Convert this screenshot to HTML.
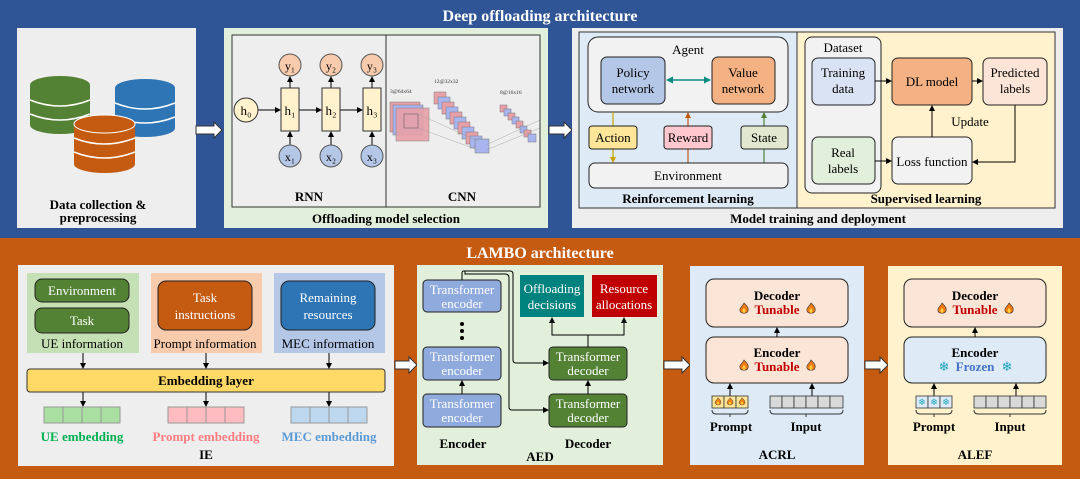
<!DOCTYPE html>
<html><head><meta charset="utf-8"><style>
html,body{margin:0;padding:0;background:#fff}
svg{display:block}
text{font-family:"Liberation Serif",serif}
</style></head><body>
<svg width="1080" height="479" viewBox="0 0 1080 479" xmlns="http://www.w3.org/2000/svg">
<defs>
<marker id="ah" markerWidth="6" markerHeight="6" refX="5" refY="3" orient="auto" markerUnits="userSpaceOnUse"><path d="M0,0 L6,3 L0,6 z" fill="#000"/></marker>
<marker id="aht" markerWidth="7" markerHeight="7" refX="6" refY="3.5" orient="auto-start-reverse" markerUnits="userSpaceOnUse"><path d="M0,0 L7,3.5 L0,7 z" fill="#0b8a82"/></marker>
<marker id="ahy" markerWidth="6" markerHeight="6" refX="5" refY="3" orient="auto" markerUnits="userSpaceOnUse"><path d="M0,0 L6,3 L0,6 z" fill="#c9a000"/></marker>
<marker id="aho" markerWidth="6" markerHeight="6" refX="5" refY="3" orient="auto" markerUnits="userSpaceOnUse"><path d="M0,0 L6,3 L0,6 z" fill="#c55a11"/></marker>
<marker id="ahg" markerWidth="6" markerHeight="6" refX="5" refY="3" orient="auto" markerUnits="userSpaceOnUse"><path d="M0,0 L6,3 L0,6 z" fill="#548235"/></marker>
<g id="flame"><path d="M0,-6 C3,-3 5,-1 4,2 C3,5 -3,5 -4,2 C-5,-1 -2,-2 0,-6z" fill="#f07b12" stroke="#333" stroke-width="0.6"/><path d="M0,-1 C2,1 2,3 0,4 C-2,3 -2,1 0,-1z" fill="#ffd23f"/></g>
</defs>
<!-- bands -->
<rect x="0" y="0" width="1080" height="238" fill="#2f5597"/>
<rect x="0" y="238" width="1080" height="241" fill="#c55a11"/>
<text x="540" y="21" text-anchor="middle" font-size="16" font-weight="bold" fill="#fff">Deep offloading architecture</text>
<text x="540" y="258" text-anchor="middle" font-size="16" font-weight="bold" fill="#fff">LAMBO architecture</text>

<!-- data collection -->
<rect x="17" y="28" width="179" height="200" fill="#eeeeee"/>
<g>
<rect x="30" y="85" width="60" height="40" fill="#548235"/><ellipse cx="60" cy="125" rx="30" ry="9" fill="#548235"/><ellipse cx="60" cy="85" rx="30" ry="9" fill="#548235"/>
<path d="M30,100 Q60,112 90,100 M30,114 Q60,126 90,114" stroke="#fff" stroke-width="1.5" fill="none"/>
<rect x="115" y="88" width="60" height="40" fill="#2e75b6"/><ellipse cx="145" cy="128" rx="30" ry="9" fill="#2e75b6"/><ellipse cx="145" cy="88" rx="30" ry="9" fill="#2e75b6"/>
<path d="M115,103 Q145,115 175,103 M115,117 Q145,129 175,117" stroke="#fff" stroke-width="1.5" fill="none"/>
<rect x="74" y="124" width="61" height="40" fill="#c55a11"/><ellipse cx="104.5" cy="164" rx="30.5" ry="9" fill="#c55a11"/><ellipse cx="104.5" cy="124" rx="30.5" ry="9" fill="#c55a11" stroke="#fff" stroke-width="1"/>
<path d="M74,138 Q104,150 135,138 M74,152 Q104,164 135,152" stroke="#fff" stroke-width="1.5" fill="none"/>
</g>
<text x="98" y="209" text-anchor="middle" font-size="13" font-weight="bold">Data collection &amp;</text>
<text x="98" y="222" text-anchor="middle" font-size="13" font-weight="bold">preprocessing</text>

<!-- block arrows -->
<g fill="#fff" stroke="#333" stroke-width="1">
<path d="M196,126 h18 v-4 l8,8 l-8,8 v-4 h-18 z"/>
<path d="M549,126 h15 v-4 l8,8 l-8,8 v-4 h-15 z"/>
<path d="M395,361 h14 v-4 l8,8 l-8,8 v-4 h-14 z"/>
<path d="M664,361 h18 v-4 l8,8 l-8,8 v-4 h-18 z"/>
<path d="M865,361 h15 v-4 l8,8 l-8,8 v-4 h-15 z"/>
</g>

<!-- offloading model selection -->
<rect x="224" y="28" width="324" height="200" fill="#e2efda"/>
<rect x="232" y="35" width="308" height="172" fill="#eeeeee" stroke="#333" stroke-width="1"/>
<line x1="386" y1="35" x2="386" y2="207" stroke="#333"/>
<g stroke="#000" stroke-width="1" fill="none">
<line x1="258" y1="110" x2="280" y2="110" marker-end="url(#ah)"/>
<line x1="299" y1="110" x2="321" y2="110" marker-end="url(#ah)"/>
<line x1="340" y1="110" x2="362" y2="110" marker-end="url(#ah)"/>
<line x1="290" y1="88" x2="290" y2="77" marker-end="url(#ah)"/>
<line x1="331" y1="88" x2="331" y2="77" marker-end="url(#ah)"/>
<line x1="372" y1="88" x2="372" y2="77" marker-end="url(#ah)"/>
<line x1="290" y1="145" x2="290" y2="132" marker-end="url(#ah)"/>
<line x1="331" y1="145" x2="331" y2="132" marker-end="url(#ah)"/>
<line x1="372" y1="145" x2="372" y2="132" marker-end="url(#ah)"/>
</g>
<circle cx="246" cy="110" r="12" fill="#fff2cc" stroke="#333"/><text x="246" y="115" text-anchor="middle" font-size="13">h₀</text>
<g fill="#fff2cc" stroke="#333"><rect x="281" y="88" width="18" height="43"/><rect x="322" y="88" width="18" height="43"/><rect x="363" y="88" width="18" height="43"/></g>
<g font-size="13" text-anchor="middle"><text x="290" y="115">h₁</text><text x="331" y="115">h₂</text><text x="372" y="115">h₃</text></g>
<g fill="#f8cbad" stroke="#555"><circle cx="290" cy="65" r="11"/><circle cx="331" cy="65" r="11"/><circle cx="372" cy="65" r="11"/></g>
<g fill="#b4c7e7" stroke="#555"><circle cx="290" cy="156" r="11"/><circle cx="331" cy="156" r="11"/><circle cx="372" cy="156" r="11"/></g>
<g font-size="12" text-anchor="middle"><text x="290" y="70">y₁</text><text x="331" y="70">y₂</text><text x="372" y="70">y₃</text><text x="290" y="161">x₁</text><text x="331" y="161">x₂</text><text x="372" y="161">x₃</text></g>
<text x="309" y="201" text-anchor="middle" font-size="13" font-weight="bold">RNN</text>
<text x="462" y="201" text-anchor="middle" font-size="13" font-weight="bold">CNN</text>
<!-- CNN -->
<g font-family="Liberation Sans" font-size="5.5" fill="#333"><text x="390" y="93" font-family="Liberation Sans">3@64x64</text><text x="434" y="83" font-family="Liberation Sans">12@32x32</text><text x="500" y="94" font-family="Liberation Sans">8@16x16</text></g>
<g stroke="#777" stroke-width="0.5">
<rect x="390" y="102" width="30" height="30" fill="#e8a0a8"/><rect x="393" y="105" width="30" height="30" fill="#a9b5ee"/><rect x="396" y="108" width="33" height="33" fill="#e8a0a8" opacity="0.9"/>
<rect x="404" y="114" width="14" height="14" fill="none" stroke="#555"/>
</g>
<g stroke="#777" stroke-width="0.5">
<rect x="434" y="92" width="12" height="12" fill="#e8a0a8"/><rect x="438" y="97" width="12" height="12" fill="#a9b5ee"/><rect x="442" y="102" width="12" height="12" fill="#e8a0a8"/><rect x="446" y="107" width="12" height="12" fill="#a9b5ee"/><rect x="450" y="112" width="12" height="12" fill="#e8a0a8"/><rect x="454" y="117" width="12" height="12" fill="#a9b5ee"/><rect x="458" y="122" width="12" height="12" fill="#e8a0a8"/><rect x="462" y="127" width="12" height="12" fill="#a9b5ee"/><rect x="466" y="132" width="12" height="12" fill="#e8a0a8"/><rect x="470" y="136" width="12" height="12" fill="#a9b5ee"/><rect x="475" y="139" width="14" height="14" fill="#a9b5ee"/>
<rect x="500" y="105" width="7" height="7" fill="#e8a0a8"/><rect x="504" y="109" width="7" height="7" fill="#a9b5ee"/><rect x="508" y="113" width="7" height="7" fill="#e8a0a8"/><rect x="512" y="117" width="7" height="7" fill="#a9b5ee"/><rect x="516" y="121" width="7" height="7" fill="#e8a0a8"/><rect x="520" y="126" width="7" height="7" fill="#a9b5ee"/><rect x="524" y="130" width="7" height="7" fill="#e8a0a8"/><rect x="528" y="134" width="8" height="8" fill="#a9b5ee"/>
</g>
<g stroke="#999" stroke-width="0.4"><line x1="418" y1="114" x2="478" y2="141"/><line x1="418" y1="128" x2="478" y2="150"/><line x1="486" y1="145" x2="540" y2="120"/><line x1="486" y1="150" x2="540" y2="128"/></g>
<text x="386" y="223" text-anchor="middle" font-size="13" font-weight="bold">Offloading model selection</text>

<!-- model training -->
<rect x="572" y="28" width="491" height="200" fill="#eeeeee"/>
<rect x="579" y="32" width="218" height="176" fill="#deebf7"/>
<rect x="797" y="32" width="258" height="176" fill="#fff2cc"/>
<rect x="579" y="32" width="476" height="176" fill="none" stroke="#333"/>
<line x1="797" y1="32" x2="797" y2="208" stroke="#333"/>
<rect x="588" y="37" width="200" height="75" rx="10" fill="#f2f2f2" stroke="#222"/>
<text x="688" y="54" text-anchor="middle" font-size="13">Agent</text>
<rect x="601" y="57" width="64" height="47" rx="6" fill="#b4c7e7" stroke="#222"/>
<rect x="712" y="57" width="63" height="47" rx="6" fill="#f4b183" stroke="#222"/>
<g font-size="13" text-anchor="middle"><text x="633" y="77">Policy</text><text x="633" y="93">network</text><text x="743" y="77">Value</text><text x="743" y="93">network</text></g>
<line x1="667" y1="80" x2="710" y2="80" stroke="#0b8a82" stroke-width="1.5" marker-start="url(#aht)" marker-end="url(#aht)"/>
<line x1="613" y1="112" x2="613" y2="162" stroke="#c9a000" stroke-width="1.2" marker-end="url(#ahy)"/>
<line x1="688" y1="163" x2="688" y2="113" stroke="#c55a11" stroke-width="1.2" marker-end="url(#aho)"/>
<line x1="764" y1="163" x2="764" y2="113" stroke="#548235" stroke-width="1.2" marker-end="url(#ahg)"/>
<rect x="589" y="126" width="48" height="23" rx="3" fill="#ffe699" stroke="#222"/>
<rect x="664" y="126" width="48" height="23" rx="3" fill="#ffc7ce" stroke="#222"/>
<rect x="741" y="126" width="47" height="23" rx="3" fill="#e2e8d0" stroke="#222"/>
<g font-size="13" text-anchor="middle"><text x="613" y="142">Action</text><text x="688" y="142">Reward</text><text x="764" y="142">State</text></g>
<rect x="589" y="163" width="199" height="25" rx="6" fill="#f2f2f2" stroke="#222"/>
<text x="688" y="180" text-anchor="middle" font-size="13">Environment</text>
<text x="688" y="203" text-anchor="middle" font-size="13" font-weight="bold">Reinforcement learning</text>
<rect x="805" y="37" width="76" height="156" rx="7" fill="#f2f2f2" stroke="#222"/>
<text x="843" y="52" text-anchor="middle" font-size="13">Dataset</text>
<rect x="812" y="58" width="63" height="47" rx="6" fill="#dae3f3" stroke="#222"/>
<rect x="812" y="137" width="63" height="47" rx="6" fill="#e2efda" stroke="#222"/>
<rect x="892" y="58" width="80" height="47" rx="6" fill="#f4b183" stroke="#222"/>
<rect x="983" y="58" width="64" height="47" rx="6" fill="#fce4d6" stroke="#222"/>
<rect x="892" y="137" width="80" height="47" rx="6" fill="#f2f2f2" stroke="#222"/>
<g font-size="13" text-anchor="middle"><text x="843" y="77">Training</text><text x="843" y="93">data</text><text x="843" y="157">Real</text><text x="843" y="173">labels</text><text x="932" y="86">DL model</text><text x="1015" y="77">Predicted</text><text x="1015" y="93">labels</text><text x="932" y="166">Loss function</text><text x="970" y="126">Update</text></g>
<g stroke="#000" fill="none"><line x1="875" y1="81" x2="891" y2="81" marker-end="url(#ah)"/><line x1="972" y1="81" x2="982" y2="81" marker-end="url(#ah)"/><line x1="875" y1="161" x2="891" y2="161" marker-end="url(#ah)"/><line x1="932" y1="137" x2="932" y2="106" marker-end="url(#ah)"/><polyline points="1015,105 1015,162 973,162" marker-end="url(#ah)"/></g>
<text x="926" y="203" text-anchor="middle" font-size="13" font-weight="bold">Supervised learning</text>
<text x="818" y="223" text-anchor="middle" font-size="13" font-weight="bold">Model training and deployment</text>

<!-- IE -->
<rect x="18" y="265" width="376" height="201" fill="#eeeeee"/>
<rect x="27" y="273" width="112" height="80" fill="#c5e0b4"/>
<rect x="151" y="273" width="111" height="80" fill="#f8cbad"/>
<rect x="274" y="273" width="111" height="80" fill="#b4c7e7"/>
<rect x="35" y="279" width="94" height="23" rx="7" fill="#548235" stroke="#222"/>
<rect x="35" y="308" width="94" height="25" rx="7" fill="#548235" stroke="#222"/>
<rect x="158" y="281" width="94" height="49" rx="8" fill="#c55a11" stroke="#222"/>
<rect x="281" y="281" width="94" height="49" rx="8" fill="#2e75b6" stroke="#222"/>
<g font-size="13" text-anchor="middle" fill="#fff"><text x="82" y="295">Environment</text><text x="82" y="325">Task</text><text x="205" y="302">Task</text><text x="205" y="319">instructions</text><text x="328" y="302">Remaining</text><text x="328" y="319">resources</text></g>
<g font-size="13" text-anchor="middle"><text x="82" y="348">UE information</text><text x="205" y="348">Prompt information</text><text x="328" y="348">MEC information</text></g>
<g stroke="#000"><line x1="83" y1="353" x2="83" y2="368" marker-end="url(#ah)"/><line x1="206" y1="353" x2="206" y2="368" marker-end="url(#ah)"/><line x1="329" y1="353" x2="329" y2="368" marker-end="url(#ah)"/><line x1="83" y1="392" x2="83" y2="406" marker-end="url(#ah)"/><line x1="206" y1="392" x2="206" y2="406" marker-end="url(#ah)"/><line x1="329" y1="392" x2="329" y2="406" marker-end="url(#ah)"/></g>
<rect x="27" y="369" width="358" height="23" rx="3" fill="#ffd966" stroke="#333"/>
<text x="206" y="385" text-anchor="middle" font-size="13" font-weight="bold">Embedding layer</text>
<g stroke="#999" stroke-width="1">
<g fill="#a9dfa0"><rect x="44" y="407" width="19" height="16"/><rect x="63" y="407" width="19" height="16"/><rect x="82" y="407" width="19" height="16"/><rect x="101" y="407" width="19" height="16"/></g>
<g fill="#ffbcc0"><rect x="168" y="407" width="19" height="16"/><rect x="187" y="407" width="19" height="16"/><rect x="206" y="407" width="19" height="16"/><rect x="225" y="407" width="19" height="16"/></g>
<g fill="#bdd7ee"><rect x="291" y="407" width="19" height="16"/><rect x="310" y="407" width="19" height="16"/><rect x="329" y="407" width="19" height="16"/><rect x="348" y="407" width="19" height="16"/></g>
</g>
<g font-size="13" font-weight="bold" text-anchor="middle"><text x="82" y="441" fill="#00b050">UE embedding</text><text x="206" y="441" fill="#ff7c80">Prompt embedding</text><text x="329" y="441" fill="#5b9bd5">MEC embedding</text><text x="206" y="459">IE</text></g>

<!-- AED -->
<rect x="417" y="265" width="246" height="200" fill="#e2efda"/>
<g fill="#8faadc" stroke="#222"><rect x="423" y="280" width="78" height="32" rx="4"/><rect x="423" y="347" width="78" height="33" rx="4"/><rect x="423" y="394" width="78" height="33" rx="4"/></g>
<g font-size="13" text-anchor="middle" fill="#fff"><text x="462" y="294">Transformer</text><text x="462" y="308">encoder</text><text x="462" y="361">Transformer</text><text x="462" y="375">encoder</text><text x="462" y="408">Transformer</text><text x="462" y="422">encoder</text></g>
<g fill="#000"><circle cx="462" cy="324" r="2"/><circle cx="462" cy="331" r="2"/><circle cx="462" cy="338" r="2"/></g>
<g fill="#548235" stroke="#222"><rect x="549" y="347" width="78" height="33" rx="4"/><rect x="549" y="394" width="78" height="33" rx="4"/></g>
<g font-size="13" text-anchor="middle" fill="#fff"><text x="588" y="361">Transformer</text><text x="588" y="375">decoder</text><text x="588" y="408">Transformer</text><text x="588" y="422">decoder</text></g>
<rect x="520" y="275" width="64" height="42" fill="#00837e"/>
<rect x="592" y="275" width="65" height="42" fill="#c00000"/>
<g font-size="13" text-anchor="middle" fill="#fff"><text x="552" y="293">Offloading</text><text x="552" y="309">decisions</text><text x="624" y="293">Resource</text><text x="624" y="309">allocations</text></g>
<g stroke="#000" fill="none">
<line x1="462" y1="394" x2="462" y2="381" marker-end="url(#ah)"/>
<line x1="588" y1="394" x2="588" y2="381" marker-end="url(#ah)"/>
<path d="M462,280 V273 Q462,271 464,271 H510 Q513,271 513,274 V360 Q513,363 516,363 H548" marker-end="url(#ah)"/>
<path d="M465,271 V274 H505 Q509,274 509,278 V407 Q509,410 512,410 H548" marker-end="url(#ah)"/>
<polyline points="588,347 588,335 552,335 552,318" marker-end="url(#ah)"/>
<polyline points="588,335 624,335 624,318" marker-end="url(#ah)"/>
</g>
<g font-size="13" font-weight="bold" text-anchor="middle"><text x="463" y="448">Encoder</text><text x="588" y="448">Decoder</text><text x="540" y="461">AED</text></g>

<!-- ACRL -->
<rect x="690" y="266" width="174" height="199" fill="#deebf7"/>
<rect x="706" y="279" width="142" height="48" rx="8" fill="#fbe5d6" stroke="#222"/>
<rect x="706" y="337" width="142" height="46" rx="8" fill="#fbe5d6" stroke="#222"/>
<g font-size="13" font-weight="bold" text-anchor="middle"><text x="777" y="300">Decoder</text><text x="777" y="357">Encoder</text></g>
<g font-size="13" font-weight="bold" text-anchor="middle" fill="#c00000"><text x="777" y="314">Tunable</text><text x="777" y="371">Tunable</text></g>
<use href="#flame" x="744" y="309"/><use href="#flame" x="811" y="309"/><use href="#flame" x="744" y="366"/><use href="#flame" x="811" y="366"/>
<g stroke="#000"><line x1="777" y1="337" x2="777" y2="328" marker-end="url(#ah)"/><line x1="730" y1="396" x2="730" y2="384" marker-end="url(#ah)"/><line x1="812" y1="396" x2="812" y2="384" marker-end="url(#ah)"/></g>
<g fill="#ffe699" stroke="#333" stroke-width="0.8"><rect x="712" y="396" width="12" height="12"/><rect x="724" y="396" width="12" height="12"/><rect x="736" y="396" width="12" height="12"/></g>
<use href="#flame" x="718" y="402" transform="translate(718 402) scale(0.7) translate(-718 -402)"/>
<use href="#flame" x="730" y="402" transform="translate(730 402) scale(0.7) translate(-730 -402)"/>
<use href="#flame" x="742" y="402" transform="translate(742 402) scale(0.7) translate(-742 -402)"/>
<g fill="#d9d9d9" stroke="#333" stroke-width="0.8"><rect x="770" y="396" width="12" height="12"/><rect x="782" y="396" width="12" height="12"/><rect x="794" y="396" width="12" height="12"/><rect x="806" y="396" width="12" height="12"/><rect x="818" y="396" width="12" height="12"/><rect x="830" y="396" width="13" height="12"/></g>
<g stroke="#333" fill="none"><path d="M712,410 q0,4 4,4 h28 q4,0 4,-4 M730,414 v3"/><path d="M770,410 q0,4 4,4 h65 q4,0 4,-4 M806,414 v3"/></g>
<g font-size="13" font-weight="bold" text-anchor="middle" font-family="Liberation Sans"><text x="731" y="431" font-family="Liberation Sans">Prompt</text><text x="806" y="431" font-family="Liberation Sans">Input</text></g>
<text x="777" y="459" text-anchor="middle" font-size="13" font-weight="bold">ACRL</text>

<!-- ALEF -->
<rect x="888" y="266" width="174" height="199" fill="#fff2cc"/>
<rect x="904" y="279" width="142" height="48" rx="8" fill="#fbe5d6" stroke="#222"/>
<rect x="904" y="337" width="142" height="46" rx="8" fill="#deebf7" stroke="#222"/>
<g font-size="13" font-weight="bold" text-anchor="middle"><text x="975" y="300">Decoder</text><text x="975" y="357">Encoder</text></g>
<text x="975" y="314" font-size="13" font-weight="bold" text-anchor="middle" fill="#c00000">Tunable</text>
<text x="975" y="371" font-size="13" font-weight="bold" text-anchor="middle" fill="#4472c4">Frozen</text>
<use href="#flame" x="942" y="309"/><use href="#flame" x="1009" y="309"/>
<g font-size="13" fill="#1aa3b8" text-anchor="middle" font-family="DejaVu Sans"><text x="944" y="371" font-family="DejaVu Sans">❄</text><text x="1007" y="371" font-family="DejaVu Sans">❄</text></g>
<g stroke="#000"><line x1="975" y1="337" x2="975" y2="328" marker-end="url(#ah)"/><line x1="934" y1="396" x2="934" y2="384" marker-end="url(#ah)"/><line x1="1016" y1="396" x2="1016" y2="384" marker-end="url(#ah)"/></g>
<g fill="#deebf7" stroke="#333" stroke-width="0.8"><rect x="916" y="396" width="12" height="12"/><rect x="928" y="396" width="12" height="12"/><rect x="940" y="396" width="12" height="12"/></g>
<g font-size="9" fill="#1aa3b8" text-anchor="middle" font-family="DejaVu Sans"><text x="922" y="405" font-family="DejaVu Sans">❄</text><text x="934" y="405" font-family="DejaVu Sans">❄</text><text x="946" y="405" font-family="DejaVu Sans">❄</text></g>
<g fill="#d9d9d9" stroke="#333" stroke-width="0.8"><rect x="974" y="396" width="12" height="12"/><rect x="986" y="396" width="12" height="12"/><rect x="998" y="396" width="12" height="12"/><rect x="1010" y="396" width="12" height="12"/><rect x="1022" y="396" width="12" height="12"/><rect x="1034" y="396" width="12" height="12"/></g>
<g stroke="#333" fill="none"><path d="M916,410 q0,4 4,4 h28 q4,0 4,-4 M934,414 v3"/><path d="M974,410 q0,4 4,4 h64 q4,0 4,-4 M1010,414 v3"/></g>
<g font-size="13" font-weight="bold" text-anchor="middle"><text x="934" y="431" font-family="Liberation Sans">Prompt</text><text x="1010" y="431" font-family="Liberation Sans">Input</text></g>
<text x="975" y="459" text-anchor="middle" font-size="13" font-weight="bold">ALEF</text>
</svg>
</body></html>
